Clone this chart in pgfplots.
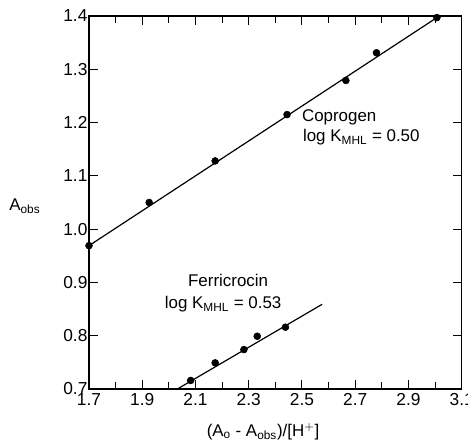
\documentclass[border=0pt]{standalone}
\usepackage{fontspec}
\setmainfont{Liberation Sans}
\usepackage{pgfplots}
\pgfplotsset{compat=1.18}
\newcommand{\tfont}{\fontsize{12.7}{14}\selectfont}
\begin{document}
\begin{tikzpicture}[font=\tfont]
\useasboundingbox (-66.75pt,-39.75pt) rectangle (284.25pt,291.75pt);
\begin{axis}[
  at={(0,0)}, anchor=south west,
  scale only axis, width=279.5pt, height=279.75pt,
  xmin=1.7, xmax=3.1, ymin=0.7, ymax=1.4,
  xtick={1.7,1.9,2.1,2.3,2.5,2.7,2.9,3.1},
  minor x tick num=1,
  ytick={0.7,0.8,0.9,1.0,1.1,1.2,1.3,1.4},
  tick align=inside,
  major tick length=6.5pt, minor tick length=5pt,
  tick style={line width=0.8pt, black},
  axis line style={line width=1pt},
  tick label style={font=\fontsize{13}{15}\selectfont},
  /pgf/number format/assume math mode=true,
  /pgf/number format/fixed, /pgf/number format/fixed zerofill,
  /pgf/number format/precision=1,
  yticklabel style={inner xsep=1pt},
  clip=false,
  xlabel={(A$_\mathrm{o}$\ - A$_\mathrm{obs}$)/[H$^+$]},
  ylabel={A$_\mathrm{obs}$},
  label style={font=\fontsize{13.5}{15}\selectfont},
  every axis x label/.style={at={(rel axis cs:0.467,-0.114)}, anchor=center},
  every axis y label/.style={at={(rel axis cs:-0.172,0.49)}, anchor=center},
]
% Coprogen
\addplot[only marks, mark=*, mark size=2.6pt, black] coordinates {
 (1.700,0.969) (1.926,1.050) (2.174,1.128) (2.444,1.215)
 (2.665,1.279) (2.780,1.331) (3.007,1.397)
};
\addplot[black, line width=0.9pt] coordinates {(1.700,0.969) (3.007,1.397)};
% Ferricrocin
\addplot[only marks, mark=*, mark size=2.6pt, black] coordinates {
 (2.082,0.716) (2.174,0.749) (2.282,0.774) (2.332,0.799) (2.438,0.816)
};
\addplot[black, line width=0.9pt] coordinates {(2.032,0.700) (2.576,0.859)};
\node[anchor=base, font=\tfont] at (axis cs:2.640,1.2017) {Coprogen};
\node[anchor=base, font=\tfont] at (axis cs:2.723,1.164) {log K$_\mathrm{MHL}$ = 0.50};
\node[anchor=base, font=\tfont] at (axis cs:2.2226,0.892) {Ferricrocin};
\node[anchor=base, font=\tfont] at (axis cs:2.2038,0.851) {log K$_\mathrm{MHL}$ = 0.53};
\end{axis}
\end{tikzpicture}
\end{document}
